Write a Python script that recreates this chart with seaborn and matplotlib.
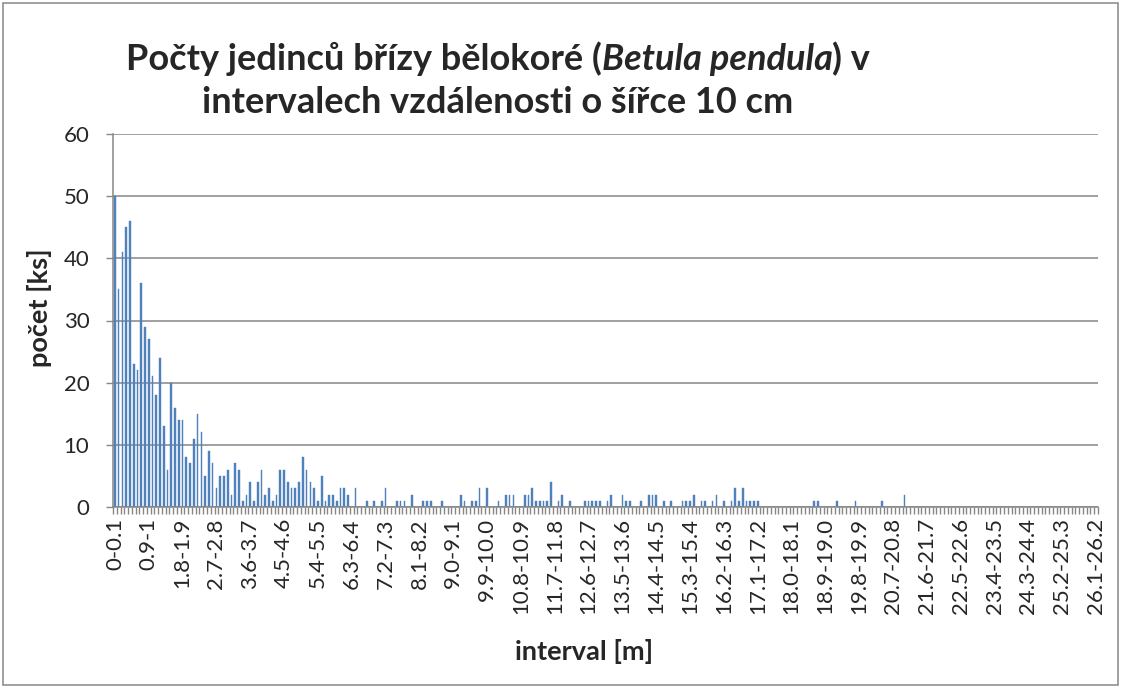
import numpy as np
import pandas as pd
import matplotlib
matplotlib.use("Agg")
import matplotlib.pyplot as plt
import seaborn as sns
from matplotlib.patches import Rectangle

# ---- data ----
counts = [
    50, 35, 41, 45, 46, 23, 22, 36, 29, 27, 21, 18, 24, 13, 6, 20, 16, 14, 14, 8,
    7, 11, 15, 12, 5, 9, 7, 3, 5, 5, 6, 2, 7, 6, 1, 2, 4, 1, 4, 6,
    2, 3, 1, 2, 6, 6, 4, 3, 3, 4, 8, 6, 4, 3, 1, 5, 1, 2, 2, 1,
    3, 3, 2, 0, 3, 0, 0, 1, 0, 1, 0, 1, 3, 0, 0, 1, 1, 1, 0, 2,
    0, 0, 1, 1, 1, 0, 0, 1, 0, 0, 0, 0, 2, 1, 0, 1, 1, 3, 0, 3,
    0, 0, 1, 0, 2, 2, 2, 0, 0, 2, 2, 3, 1, 1, 1, 1, 4, 0, 1, 2,
    0, 1, 0, 0, 0, 1, 1, 1, 1, 1, 0, 1, 2, 0, 0, 2, 1, 1, 0, 0,
    1, 0, 2, 2, 2, 0, 1, 0, 1, 0, 0, 1, 1, 1, 2, 0, 1, 1, 0, 1,
    2, 0, 1, 0, 1, 3, 1, 3, 1, 1, 1, 1, 0, 0, 0, 0, 0, 0, 0, 0,
    0, 0, 0, 0, 0, 0, 1, 1, 0, 0, 0, 0, 1, 0, 0, 0, 0, 1, 0, 0,
    0, 0, 0, 0, 1, 0, 0, 0, 0, 0, 2, 0, 0, 0, 0, 0, 0, 0, 0, 0,
    0, 0, 0, 0, 0, 0, 0, 0, 0, 0, 0, 0, 0, 0, 0, 0, 0, 0, 0, 0,
    0, 0, 0, 0, 0, 0, 0, 0, 0, 0, 0, 0, 0, 0, 0, 0, 0, 0, 0, 0,
    0, 0,
]

tick_labels = [
    "0-0.1", "0.9-1", "1.8-1.9", "2.7-2.8", "3.6-3.7", "4.5-4.6", "5.4-5.5",
    "6.3-6.4", "7.2-7.3", "8.1-8.2", "9.0-9.1", "9.9-10.0", "10.8-10.9",
    "11.7-11.8", "12.6-12.7", "13.5-13.6", "14.4-14.5", "15.3-15.4",
    "16.2-16.3", "17.1-17.2", "18.0-18.1", "18.9-19.0", "19.8-19.9",
    "20.7-20.8", "21.6-21.7", "22.5-22.6", "23.4-23.5", "24.3-24.4",
    "25.2-25.3", "26.1-26.2",
]
label_step = 9

categories = []
for i in range(len(counts)):
    if i % label_step == 0:
        categories.append(tick_labels[i // label_step])
    else:
        categories.append(f"{i/10:.1f}-{(i+1)/10:.1f}")

title_parts = [
    ("Počty jedinců břízy bělokoré (", "normal"),
    ("Betula pendula", "italic"),
    (") v", "normal"),
]
title_line2 = "intervalech vzdálenosti o šířce 10 cm"
y_label = "počet [ks]"
x_label = "interval [m]"

# ---- style ----
sns.set_style("white")
FONT = ["Lato", "DejaVu Sans"]
plt.rcParams["font.family"] = FONT

W, H = 1121, 688
fig = plt.figure(figsize=(W / 100, H / 100), dpi=100)
fig.patch.set_facecolor("white")

L, R, T, B = 113, 1098, 134, 507
ax = fig.add_axes([L / W, 1 - B / H, (R - L) / W, (B - T) / H])

BLUE = "#4F81BD"
df = pd.DataFrame({"interval": pd.Categorical(categories, categories=categories, ordered=True),
                   "pocet": counts})
sns.barplot(data=df, x="interval", y="pocet", color=BLUE, width=0.45,
            saturation=1, ax=ax, order=categories, edgecolor=BLUE, linewidth=0.3)

n = len(counts)
ax.set_xlim(-0.5, n - 0.5)
ax.set_ylim(0, 60)
ax.set_yticks(np.arange(0, 61, 10))
ax.yaxis.grid(True, color="#868686", linewidth=1.1)
ax.set_axisbelow(True)

ax.set_xticks(np.arange(0, n, label_step))
ax.set_xticklabels(tick_labels, rotation=90, fontsize=16, family=FONT, va="top")
ax.set_xticks(np.arange(n + 1) - 0.5, minor=True)
ax.tick_params(axis="x", which="both", bottom=True)
ax.tick_params(axis="x", which="major", length=0, pad=8)
ax.tick_params(axis="x", which="minor", length=5, width=1, color="#868686", direction="out")
ax.tick_params(axis="y", which="major", left=True, length=5, width=1, color="#868686",
               direction="out", labelsize=16, pad=12)
for lab in ax.get_yticklabels():
    lab.set_family(FONT)

for s in ["top", "right"]:
    ax.spines[s].set_visible(False)
for s in ["left", "bottom"]:
    ax.spines[s].set_color("#868686")
    ax.spines[s].set_linewidth(1.1)

ax.set_xlabel("")
ax.set_ylabel("")
fig.text(40 / W, 1 - 308 / H, y_label, rotation=90, ha="center", va="center",
         fontsize=19.5, fontweight="bold", family=FONT)
fig.text(584 / W, 1 - 652 / H, x_label, ha="center", va="center",
         fontsize=19.5, fontweight="bold", family=FONT)

# ---- title with mixed styles ----
title_size = 26
title_cx = 498
renderer = fig.canvas.get_renderer()
pieces = []
total_w = 0
for txt, style in title_parts:
    t = fig.text(0, 0, txt, fontsize=title_size, fontweight="bold", style=style,
                 family=FONT, va="baseline", ha="left")
    w = t.get_window_extent(renderer=renderer).width
    pieces.append((t, w))
    total_w += w
x = title_cx - total_w / 2
y1 = 1 - 70 / H
for t, w in pieces:
    t.set_position((x / W, y1))
    x += w
fig.text(title_cx / W, 1 - 113 / H, title_line2, fontsize=title_size, fontweight="bold",
         family=FONT, ha="center", va="baseline")

# chart border
fig.patches.append(Rectangle((3 / W, 3 / H), 1 - 6 / W, 1 - 6 / H, transform=fig.transFigure,
                             fill=False, edgecolor="#868686", linewidth=1.1))

fig.savefig("out.png", dpi=100)
